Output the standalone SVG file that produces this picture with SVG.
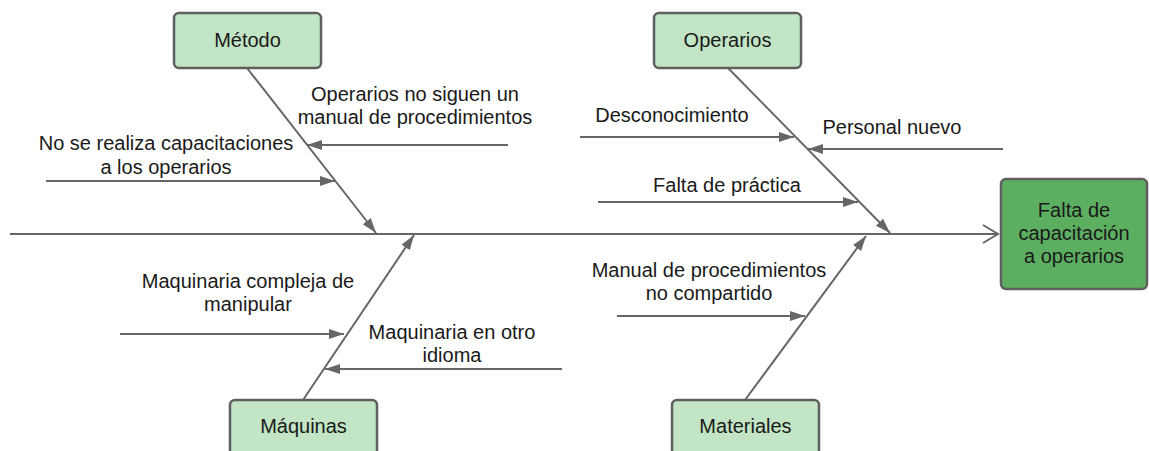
<svg xmlns="http://www.w3.org/2000/svg" width="1149" height="451" viewBox="0 0 1149 451">
<style>
.cat{fill:#c2e5c5;stroke:#5f5f5f;stroke-width:2.5}
.res{fill:#5cae60;stroke:#5f5f5f;stroke-width:2.5}
.t{font-family:"Liberation Sans",Arial,sans-serif;font-size:20px;fill:#1a1a1a;text-anchor:middle}
.ln{stroke:#666;stroke-width:2;fill:none}
</style>
<defs>
<marker id="ah" markerUnits="userSpaceOnUse" markerWidth="16" markerHeight="12" refX="15" refY="6" orient="auto">
<path d="M0,1 L15,6 L0,11 z" fill="#666"/>
</marker>
<marker id="open" markerUnits="userSpaceOnUse" markerWidth="18" markerHeight="22" refX="16" refY="11" orient="auto">
<path d="M1,2 L16,11 L1,20" fill="none" stroke="#666" stroke-width="2"/>
</marker>
</defs>
<rect width="1149" height="451" fill="#fff"/>
<g id="connectors">
<line class="ln" x1="10" y1="234" x2="998" y2="234" marker-end="url(#open)"/>
<line class="ln" x1="247" y1="68" x2="376" y2="233" marker-end="url(#ah)"/>
<line class="ln" x1="728" y1="68" x2="890" y2="233" marker-end="url(#ah)"/>
<line class="ln" x1="303" y1="400" x2="414" y2="235" marker-end="url(#ah)"/>
<line class="ln" x1="745" y1="400" x2="866" y2="236" marker-end="url(#ah)"/>
<line class="ln" x1="508" y1="145" x2="307" y2="145" marker-end="url(#ah)"/>
<line class="ln" x1="46" y1="181" x2="335" y2="181" marker-end="url(#ah)"/>
<line class="ln" x1="580" y1="137" x2="794" y2="137" marker-end="url(#ah)"/>
<line class="ln" x1="1003" y1="149" x2="808" y2="149" marker-end="url(#ah)"/>
<line class="ln" x1="598" y1="202" x2="858" y2="202" marker-end="url(#ah)"/>
<line class="ln" x1="120" y1="334" x2="344" y2="334" marker-end="url(#ah)"/>
<line class="ln" x1="562" y1="369" x2="325" y2="369" marker-end="url(#ah)"/>
<line class="ln" x1="617" y1="316" x2="805" y2="316" marker-end="url(#ah)"/>
</g>
<g id="labels">
<text class="t" x="415" y="101">Operarios no siguen un</text>
<text class="t" x="415" y="124">manual de procedimientos</text>
<text class="t" x="166" y="150">No se realiza capacitaciones</text>
<text class="t" x="166" y="174">a los operarios</text>
<text class="t" x="672" y="122">Desconocimiento</text>
<text class="t" x="892" y="134">Personal nuevo</text>
<text class="t" x="727" y="192">Falta de práctica</text>
<text class="t" x="248" y="288">Maquinaria compleja de</text>
<text class="t" x="248" y="311">manipular</text>
<text class="t" x="452" y="339">Maquinaria en otro</text>
<text class="t" x="452" y="362">idioma</text>
<text class="t" x="709" y="277">Manual de procedimientos</text>
<text class="t" x="709" y="300">no compartido</text>
</g>
<g id="metodo">
<rect class="cat" x="174" y="13" width="147" height="55" rx="5"/>
<text class="t" x="247.5" y="47">Método</text>
</g>
<g id="operarios">
<rect class="cat" x="654" y="13" width="147" height="55" rx="5"/>
<text class="t" x="727.5" y="47">Operarios</text>
</g>
<g id="maquinas">
<rect class="cat" x="230" y="400" width="147" height="58" rx="5"/>
<text class="t" x="303.5" y="433">Máquinas</text>
</g>
<g id="materiales">
<rect class="cat" x="672" y="400" width="147" height="58" rx="5"/>
<text class="t" x="745.5" y="433">Materiales</text>
</g>
<g id="resultado">
<rect class="res" x="1001" y="179" width="146" height="110" rx="5"/>
<text class="t" x="1074" y="217">Falta de</text>
<text class="t" x="1074" y="240">capacitación</text>
<text class="t" x="1074" y="263">a operarios</text>
</g>
</svg>
